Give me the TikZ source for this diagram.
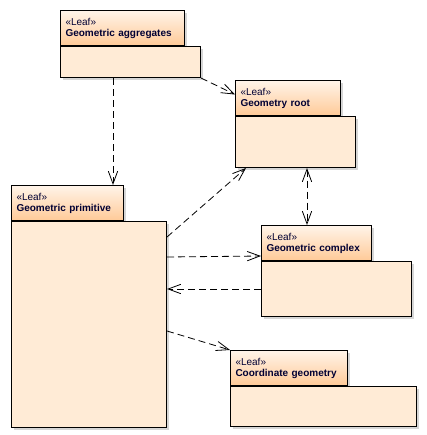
\documentclass[tikz,border=0pt]{standalone}
\usepackage{fontspec}
\setmainfont{Liberation Sans}
\usetikzlibrary{arrows.meta, positioning, shadows}
\newlength{\pxl}
\setlength{\pxl}{0.75pt}
\definecolor{tabtop}{HTML}{FFF4E9}
\definecolor{tabbot}{HTML}{FFCA98}
\definecolor{bodyfill}{HTML}{FFEBD6}
\definecolor{pkgtext}{HTML}{000033}
\tikzset{
    >={Straight Barb[length=9.5pt, width=7pt]},
    x=0.75pt, y=-0.75pt,
    pkgshadow/.style={drop shadow={shadow xshift=1.9pt, shadow yshift=-1.9pt, fill=black!16, opacity=1}},
    tab/.style={draw, line width=0.75pt, anchor=north west, top color=tabtop, bottom color=tabbot,
        align=left, text=pkgtext, inner xsep=3.75pt, inner ysep=0pt, minimum height=26.25pt,
        font=\fontsize{7.5}{8.25}\selectfont, pkgshadow},
    body/.style={draw, line width=0.75pt, anchor=north west, fill=bodyfill, pkgshadow},
    dep/.style={->, dash pattern=on 5.25pt off 3pt, line width=0.6pt},
}

\begin{document}
\begin{tikzpicture}
    \useasboundingbox (0,0) rectangle (426,435);

    \node[tab, text width=114\pxl] (agg) at (60,10) {«Leaf»\\\textbf{Geometric aggregates}};
    \node[body, minimum width=140\pxl, minimum height=31\pxl] (aggB) at (agg.south west) {};

    \node[tab, text width=95\pxl] (root) at (235,80) {«Leaf»\\\textbf{Geometry root}};
    \node[body, minimum width=120\pxl, minimum height=51\pxl] (rootB) at (root.south west) {};

    \node[tab, text width=102\pxl] (prim) at (11,185) {«Leaf»\\\textbf{Geometric primitive}};
    \node[body, minimum width=155\pxl, minimum height=206\pxl] (primB) at (prim.south west) {};

    \node[tab, text width=100\pxl] (cplx) at (261,225) {«Leaf»\\\textbf{Geometric complex}};
    \node[body, minimum width=150\pxl, minimum height=55\pxl] (cplxB) at (cplx.south west) {};

    \node[tab, text width=107\pxl] (coord) at (230,350) {«Leaf»\\\textbf{Coordinate geometry}};
    \node[body, minimum width=186\pxl, minimum height=40\pxl] (coordB) at (coord.south west) {};

    \draw[dep] ([xshift=53\pxl]aggB.south west) -- ([xshift=102\pxl]prim.north west);
    \draw[dep] (aggB.south east) -- ([yshift=3.5\pxl]root.west);
    \draw[dep] ([yshift=-16\pxl]primB.north east) -- ([xshift=11\pxl]rootB.south west);
    \draw[dep, <->] ([xshift=72\pxl]rootB.south west) -- ([xshift=46\pxl]cplx.north west);
    \draw[dep] ([yshift=-36\pxl]primB.north east) -- ([yshift=-31\pxl]cplx.north west);
    \draw[dep] ([yshift=-28\pxl]cplxB.north west) -- ([yshift=-68\pxl]primB.north east);
    \draw[dep] ([yshift=-110\pxl]primB.north east) -- (coord.north west);
\end{tikzpicture}
\end{document}
